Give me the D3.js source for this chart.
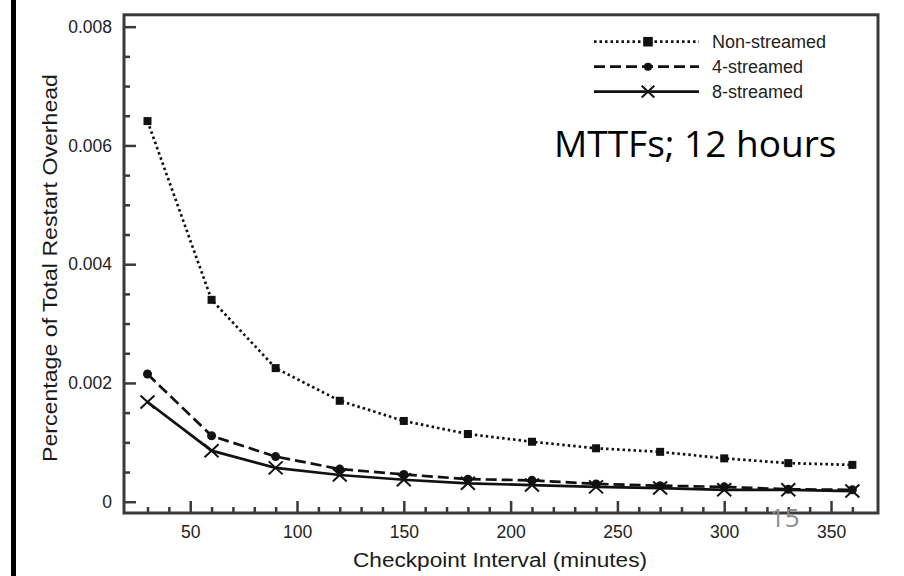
<!DOCTYPE html>
<html lang="en">
<head>
    <meta charset="UTF-8">
    <title>Restart Overhead</title>
    <script src="https://d3js.org/d3.v7.min.js"></script>
    <style>
        body { margin: 0; background: white; }
        svg { display: block; }
    </style>
</head>
<body>
    <svg id="chart"></svg>
    <script>
        // checkpoint intervals (minutes)
        var intervals = [30, 60, 90, 120, 150, 180, 210, 240, 270, 300, 330, 360];

        // series values
        var nonStreamed = [0.00641, 0.0034, 0.00225, 0.0017, 0.00136, 0.00114, 0.00101, 0.0009, 0.00084, 0.00073, 0.00065, 0.00062];
        var fourStreamed = [0.00215, 0.00111, 0.00076, 0.00055, 0.00046, 0.00038, 0.00036, 0.0003, 0.00027, 0.00025, 0.00021, 0.0002];
        var eightStreamed = [0.00168, 0.00086, 0.00057, 0.00045, 0.00037, 0.00031, 0.00028, 0.00025, 0.00023, 0.0002, 0.0002, 0.00018];

        var seriesNames = ["Non-streamed", "4-streamed", "8-streamed"];

        // tick labels
        var xTicks = [50, 100, 150, 200, 250, 300, 350];
        var yTicks = [0, 0.002, 0.004, 0.006, 0.008];
        var yTickLabels = ["0", "0.002", "0.004", "0.006", "0.008"];

        var W = 904, H = 576;
        var svg = d3.select("#chart")
            .attr("width", W)
            .attr("height", H)
            .style("background", "white");

        var font = "'Liberation Sans', Arial, Helvetica, sans-serif";

        // scales
        var x = d3.scaleLinear().domain([19, 372]).range([124, 878]);
        var y = d3.scaleLinear().domain([-0.00019, 0.0082]).range([513, 14.8]);

        // black bar on the left side of the slide
        svg.append("rect")
            .attr("x", 11).attr("y", 0)
            .attr("width", 5).attr("height", H)
            .attr("fill", "black");

        // plot frame
        svg.append("rect")
            .attr("x", x.range()[0]).attr("y", y.range()[1])
            .attr("width", x.range()[1] - x.range()[0])
            .attr("height", y.range()[0] - y.range()[1])
            .attr("fill", "none")
            .attr("stroke", "#3a3a3a")
            .attr("stroke-width", 3);

        // minor ticks
        var xMinor = d3.range(30, 370, 10).filter(function(v) { return v % 50 != 0; });
        var yMinor = d3.range(0.0005, 0.008, 0.0005).filter(function(v, i) { return (i + 1) % 4 != 0; });

        svg.append("g")
            .attr("transform", "translate(0," + y.range()[0] + ")")
            .call(d3.axisBottom(x).tickValues(xMinor).tickSize(-6).tickFormat(""))
            .call(styleAxis);

        svg.append("g")
            .attr("transform", "translate(" + x.range()[0] + ",0)")
            .call(d3.axisLeft(y).tickValues(yMinor).tickSize(-6).tickFormat(""))
            .call(styleAxis);

        // major ticks + labels
        svg.append("g")
            .attr("transform", "translate(0," + y.range()[0] + ")")
            .call(d3.axisBottom(x).tickValues(xTicks).tickSize(-12).tickPadding(13).tickFormat(d3.format("d")))
            .call(styleAxis);

        svg.append("g")
            .attr("transform", "translate(" + x.range()[0] + ",0)")
            .call(d3.axisLeft(y).tickValues(yTicks).tickSize(-12).tickPadding(12)
                .tickFormat(function(d, i) { return yTickLabels[i]; }))
            .call(styleAxis);

        function styleAxis(g) {
            g.select(".domain").remove();
            g.selectAll(".tick line").attr("stroke", "#3a3a3a").attr("stroke-width", 2.5);
            g.selectAll(".tick text")
                .attr("fill", "#222")
                .style("font-family", font)
                .style("font-size", "17.5px");
        }

        // axis titles
        svg.append("text")
            .attr("x", 500).attr("y", 567)
            .attr("text-anchor", "middle")
            .attr("textLength", 294)
            .attr("lengthAdjust", "spacingAndGlyphs")
            .attr("fill", "#1a1a1a")
            .style("font-family", font)
            .style("font-size", "20px")
            .text("Checkpoint Interval (minutes)");

        svg.append("text")
            .attr("transform", "translate(57,268) rotate(-90)")
            .attr("text-anchor", "middle")
            .attr("textLength", 388)
            .attr("lengthAdjust", "spacingAndGlyphs")
            .attr("fill", "#1a1a1a")
            .style("font-family", font)
            .style("font-size", "20px")
            .text("Percentage of Total Restart Overhead");

        // line styles per series
        var styles = [
            { values: nonStreamed, dash: "2.5,3", marker: "square" },
            { values: fourStreamed, dash: "11,5", marker: "circle" },
            { values: eightStreamed, dash: null, marker: "cross" }
        ];

        var line = d3.line()
            .x(function(d) { return x(d.x); })
            .y(function(d) { return y(d.y); });

        styles.forEach(function(s) {
            var pts = intervals.map(function(v, i) { return { x: v, y: s.values[i] }; });

            svg.append("path")
                .attr("d", line(pts))
                .attr("fill", "none")
                .attr("stroke", "#111")
                .attr("stroke-width", 2.7)
                .attr("stroke-dasharray", s.dash);

            pts.forEach(function(p) {
                draw_marker(s.marker, x(p.x), y(p.y), 1);
            });
        });

        // function: draw one marker
        function draw_marker(kind, cx, cy, k)
        {
            if (kind == "square") {
                var a = 8 * k;
                svg.append("rect")
                    .attr("x", cx - a / 2).attr("y", cy - a / 2)
                    .attr("width", a).attr("height", a)
                    .attr("fill", "#111");
            } else if (kind == "circle") {
                svg.append("circle")
                    .attr("cx", cx).attr("cy", cy)
                    .attr("r", 4.5 * k)
                    .attr("fill", "#111");
            } else {
                var hx = 7 * k, hy = 6.5 * k;
                svg.append("path")
                    .attr("d", "M" + (cx - hx) + "," + (cy - hy) + "L" + (cx + hx) + "," + (cy + hy) +
                               "M" + (cx - hx) + "," + (cy + hy) + "L" + (cx + hx) + "," + (cy - hy))
                    .attr("stroke", "#111")
                    .attr("stroke-width", 2)
                    .attr("fill", "none");
            }
        }

        // legend
        var legend = svg.append("g");
        styles.forEach(function(s, i) {
            var ly = 41.7 + i * 25;
            legend.append("line")
                .attr("x1", 594).attr("x2", 699)
                .attr("y1", ly).attr("y2", ly)
                .attr("stroke", "#111")
                .attr("stroke-width", 2.7)
                .attr("stroke-dasharray", s.dash);
            draw_marker(s.marker, 648, ly, i == 0 ? 1.2 : 0.9);
            legend.append("text")
                .attr("x", 712).attr("y", ly + 6.5)
                .attr("fill", "#222")
                .style("font-family", font)
                .style("font-size", "18px")
                .text(seriesNames[i]);
        });

        // slide annotation
        svg.append("text")
            .attr("x", 554).attr("y", 157)
            .attr("fill", "black")
            .style("font-family", "'Open Sans', sans-serif")
            .style("font-size", "37px")
            .text("MTTFs; 12 hours");

        // slide number
        svg.append("text")
            .attr("x", 770).attr("y", 527)
            .attr("fill", "#8c8c8c")
            .style("font-family", "'Open Sans', sans-serif")
            .style("font-size", "26px")
            .text("15");
    </script>
</body>
</html>
